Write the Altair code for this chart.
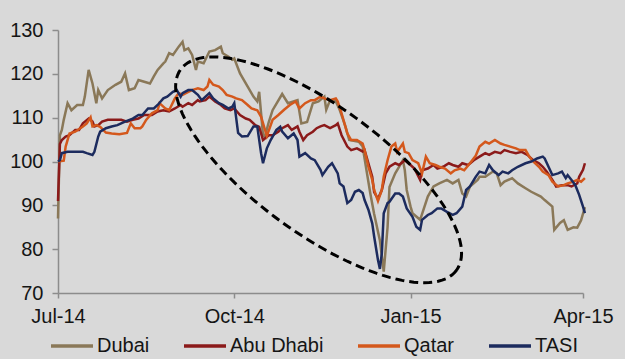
import altair as alt
import pandas as pd
import numpy as np

SERIES = ["Dubai", "Abu Dhabi", "Qatar", "TASI"]
COLORS = ["#8a7858", "#8b1a1a", "#d4581c", "#1c2b5e"]

dubai_dates = ["2014-07-01","2014-07-02","2014-07-03","2014-07-04","2014-07-06","2014-07-08","2014-07-11","2014-07-14","2014-07-15","2014-07-17","2014-07-19","2014-07-21","2014-07-22","2014-07-24","2014-07-27","2014-07-31","2014-08-03","2014-08-05","2014-08-07","2014-08-10","2014-08-12","2014-08-15","2014-08-18","2014-08-20","2014-08-22","2014-08-25","2014-08-26","2014-08-28","2014-08-30","2014-09-02","2014-09-04","2014-09-05","2014-09-07","2014-09-09","2014-09-11","2014-09-12","2014-09-15","2014-09-18","2014-09-21","2014-09-24","2014-09-25","2014-09-28","2014-09-30","2014-10-01","2014-10-04","2014-10-08","2014-10-11","2014-10-13","2014-10-14","2014-10-15","2014-10-16","2014-10-17","2014-10-19","2014-10-21","2014-10-26","2014-10-29","2014-11-03","2014-11-05","2014-11-08","2014-11-11","2014-11-14","2014-11-17","2014-11-18","2014-11-20","2014-11-23","2014-11-25","2014-11-28","2014-11-30","2014-12-05","2014-12-07","2014-12-09","2014-12-11","2014-12-13","2014-12-16","2014-12-18","2014-12-20","2014-12-21","2014-12-24","2014-12-26","2014-12-28","2014-12-29","2014-12-30","2015-01-01","2015-01-02","2015-01-06","2015-01-10","2015-01-13","2015-01-16","2015-01-20","2015-01-23","2015-01-26","2015-01-28","2015-01-30","2015-02-01","2015-02-05","2015-02-06","2015-02-09","2015-02-13","2015-02-15","2015-02-17","2015-02-19","2015-02-23","2015-02-26","2015-03-02","2015-03-05","2015-03-10","2015-03-12","2015-03-16","2015-03-17","2015-03-20","2015-03-22","2015-03-24","2015-03-27","2015-03-29","2015-03-31","2015-04-02"]
dubai_values = [87,106,107.2,109.5,113.3,111.7,112.9,112.9,114.8,120.9,117.8,113.3,116.3,114.4,116.3,117.5,118.2,120.1,116.3,116.7,118.6,118.2,117.8,119.4,120.9,122.4,122.8,124.7,124.3,126.2,127.3,125.4,125.8,124.3,120.9,122.8,122.4,125.1,125.4,126.2,124.7,123.9,123.2,123.5,120.1,117.1,114.8,113.7,115.9,111,106,105.7,109,111.7,115.4,113.3,114,108.7,109,113.3,113.7,114.8,111.8,114,113.7,111.8,108,104.9,104.5,103.4,98,92.7,88,82,74.9,85,94.2,97.3,98.8,100.3,98,93.5,89.7,88.2,86.7,92,94.3,95,95.8,95,95.8,92.7,92,94.3,95.8,96.5,96.5,97.7,97.3,94.6,95.4,96.2,95,93.9,93.1,92,91.2,89.7,84.4,86,86.6,84.4,85,84.9,86.6,89.6]

abu_dates = ["2014-07-01","2014-07-02","2014-07-03","2014-07-05","2014-07-07","2014-07-10","2014-07-12","2014-07-14","2014-07-17","2014-07-19","2014-07-20","2014-07-22","2014-07-24","2014-07-27","2014-07-31","2014-08-03","2014-08-06","2014-08-09","2014-08-12","2014-08-15","2014-08-19","2014-08-22","2014-08-25","2014-08-28","2014-08-31","2014-09-03","2014-09-04","2014-09-07","2014-09-09","2014-09-12","2014-09-13","2014-09-16","2014-09-18","2014-09-21","2014-09-24","2014-09-26","2014-09-29","2014-10-01","2014-10-04","2014-10-07","2014-10-09","2014-10-12","2014-10-14","2014-10-16","2014-10-19","2014-10-21","2014-10-24","2014-10-26","2014-10-29","2014-10-31","2014-11-03","2014-11-04","2014-11-06","2014-11-08","2014-11-11","2014-11-13","2014-11-15","2014-11-17","2014-11-20","2014-11-23","2014-11-24","2014-11-26","2014-11-29","2014-12-01","2014-12-04","2014-12-07","2014-12-08","2014-12-10","2014-12-12","2014-12-13","2014-12-15","2014-12-17","2014-12-19","2014-12-21","2014-12-24","2014-12-26","2014-12-29","2015-01-01","2015-01-03","2015-01-06","2015-01-07","2015-01-10","2015-01-13","2015-01-15","2015-01-18","2015-01-21","2015-01-23","2015-01-26","2015-01-28","2015-01-31","2015-02-03","2015-02-06","2015-02-09","2015-02-11","2015-02-14","2015-02-17","2015-02-19","2015-02-22","2015-02-25","2015-02-28","2015-03-03","2015-03-06","2015-03-09","2015-03-11","2015-03-13","2015-03-16","2015-03-18","2015-03-21","2015-03-24","2015-03-26","2015-03-29","2015-03-30","2015-04-01","2015-04-02"]
abu_values = [91,104,104.9,105.7,106,107.2,107.2,108.7,109.8,109.1,108,108.3,109.1,109.5,109.5,109.5,109.1,109.5,109.8,110.6,110.6,111.4,111.7,111.4,112.1,112.9,112.5,113.3,112.9,114,113.7,114,114.8,113.7,112.9,112.1,111.7,112.1,110.6,109.8,109.5,108.3,107.9,104.9,106,106,106.8,107.6,108.3,107.2,108,106.8,104.9,106,106.8,107.6,108,108.3,107.6,108.3,108.7,106,103.4,102.6,103,102.3,102.6,99.6,96.5,93,91.5,93.5,97.3,98.8,99.6,99.2,100.3,99.2,98.4,95.8,98,98.4,99.2,98.4,98.8,99.6,99.2,98.8,99.6,99.2,100.3,101.1,101.9,101.5,102.2,101.9,102.6,102.2,101.9,102.2,101.5,100.3,99.6,98.8,97.7,95.8,94.3,94.6,94.6,94.3,95,96.5,98.1,99.6]

qatar_dates = ["2014-07-01","2014-07-04","2014-07-05","2014-07-07","2014-07-10","2014-07-14","2014-07-16","2014-07-18","2014-07-19","2014-07-21","2014-07-23","2014-07-26","2014-07-29","2014-08-02","2014-08-06","2014-08-08","2014-08-10","2014-08-13","2014-08-14","2014-08-16","2014-08-19","2014-08-22","2014-08-23","2014-08-26","2014-08-28","2014-08-31","2014-09-02","2014-09-04","2014-09-07","2014-09-09","2014-09-12","2014-09-15","2014-09-17","2014-09-18","2014-09-20","2014-09-23","2014-09-25","2014-09-27","2014-09-30","2014-10-02","2014-10-05","2014-10-08","2014-10-10","2014-10-13","2014-10-15","2014-10-18","2014-10-21","2014-10-24","2014-10-27","2014-10-30","2014-11-02","2014-11-04","2014-11-07","2014-11-10","2014-11-12","2014-11-15","2014-11-17","2014-11-20","2014-11-23","2014-11-24","2014-11-26","2014-11-29","2014-12-01","2014-12-04","2014-12-07","2014-12-08","2014-12-10","2014-12-12","2014-12-13","2014-12-15","2014-12-17","2014-12-18","2014-12-20","2014-12-22","2014-12-24","2014-12-25","2014-12-28","2014-12-29","2014-12-31","2015-01-02","2015-01-05","2015-01-07","2015-01-09","2015-01-11","2015-01-14","2015-01-16","2015-01-19","2015-01-22","2015-01-24","2015-01-27","2015-01-29","2015-02-01","2015-02-04","2015-02-06","2015-02-09","2015-02-11","2015-02-14","2015-02-17","2015-02-19","2015-02-22","2015-02-25","2015-02-27","2015-03-02","2015-03-04","2015-03-06","2015-03-09","2015-03-11","2015-03-14","2015-03-16","2015-03-19","2015-03-22","2015-03-24","2015-03-27","2015-03-29","2015-03-31","2015-04-02"]
qatar_values = [100,100.2,103.4,106.4,106.8,108,108.7,110.1,108,108.3,107.9,106.6,106.4,106.2,106.5,108.7,107.6,107.6,108,109.5,111,111.7,113.3,112.1,111.7,114.4,115.6,115.2,115.9,116.3,116.7,116.3,117.1,118.6,117.5,117.1,116.3,115.2,114.8,114.4,114,112.9,112.1,111.7,110.2,105.8,109.5,110.6,111.8,112.9,113.7,112.1,113.3,114,114,114.8,114.4,114,114.4,113.7,111,106.4,104.9,104.9,104.1,102.6,98.8,95.8,93.5,91,93.5,96.5,100.3,103.4,104.1,102.2,104.1,102.2,101.9,100.3,99.6,97.3,101.1,99.6,99.2,98.8,98.4,97.3,98,98.4,98,99.6,101.3,103.4,104.5,104.1,104.9,104.1,103.8,103.4,103,102.6,102.6,101.1,100,98.8,97.7,96.9,95.4,94.3,94.6,95,95.4,95.8,95.4,96.2]

tasi_dates = ["2014-07-01","2014-07-02","2014-07-03","2014-07-06","2014-07-10","2014-07-14","2014-07-16","2014-07-19","2014-07-20","2014-07-22","2014-07-23","2014-07-26","2014-07-29","2014-08-01","2014-08-05","2014-08-09","2014-08-12","2014-08-14","2014-08-17","2014-08-20","2014-08-22","2014-08-25","2014-08-27","2014-08-30","2014-09-01","2014-09-03","2014-09-04","2014-09-07","2014-09-09","2014-09-12","2014-09-14","2014-09-17","2014-09-18","2014-09-20","2014-09-23","2014-09-25","2014-09-28","2014-09-30","2014-10-01","2014-10-03","2014-10-05","2014-10-08","2014-10-11","2014-10-13","2014-10-15","2014-10-16","2014-10-18","2014-10-20","2014-10-23","2014-10-25","2014-10-26","2014-10-29","2014-11-01","2014-11-03","2014-11-04","2014-11-07","2014-11-10","2014-11-12","2014-11-15","2014-11-16","2014-11-19","2014-11-21","2014-11-24","2014-11-25","2014-11-27","2014-11-29","2014-12-01","2014-12-03","2014-12-05","2014-12-07","2014-12-08","2014-12-10","2014-12-12","2014-12-13","2014-12-15","2014-12-16","2014-12-17","2014-12-18","2014-12-20","2014-12-21","2014-12-24","2014-12-26","2014-12-28","2014-12-30","2015-01-02","2015-01-04","2015-01-06","2015-01-07","2015-01-10","2015-01-12","2015-01-15","2015-01-17","2015-01-20","2015-01-23","2015-01-25","2015-01-28","2015-01-30","2015-02-01","2015-02-04","2015-02-06","2015-02-09","2015-02-11","2015-02-13","2015-02-16","2015-02-18","2015-02-21","2015-02-23","2015-02-26","2015-03-02","2015-03-05","2015-03-08","2015-03-11","2015-03-12","2015-03-14","2015-03-16","2015-03-19","2015-03-21","2015-03-23","2015-03-24","2015-03-26","2015-03-28","2015-03-30","2015-04-01","2015-04-02"]
tasi_values = [100,100.3,101.9,102.2,102.2,102.2,101.9,101.5,102.2,105.7,106.8,107.6,108,108.3,109.1,109.8,110.6,110.6,112.1,112.1,112.9,114.4,114.8,115.9,116.3,114.8,115.6,116.3,116.3,115.2,114,115.2,115.6,114.4,113.3,112.9,112.1,112.5,113.3,106.5,105.7,105.8,108,108,101.9,99.6,103,104.9,107.2,107.9,106.8,105.3,106.4,104.9,101.1,101.9,100.7,100.3,98.1,96.9,98.8,99.6,97.3,95,94.3,90.5,91.2,93.1,93.5,92.8,91.2,89,85.9,82.9,77.5,75.5,79,88.2,90.5,90.8,92.7,92.7,92,89.3,87.4,85.1,84.4,86.7,87.8,88.2,89.3,89.3,88.5,87.8,88.2,89.7,93.5,94.3,96.5,97.7,97.3,99.2,98,96.9,97.7,97.3,98,98.8,99.6,100,100.7,101.1,100.7,98.8,96.9,97.3,97.7,96.2,96.9,95.8,94.6,92.4,89.7,88.2]

X_TICKS = ["2014-07-01", "2014-10-01", "2015-01-01", "2015-04-01"]
Y_TICKS = [70, 80, 90, 100, 110, 120, 130]

# dashed annotation ellipse (centre and two conjugate radii, in data units)
ELL_CENTER_DATE = "2014-11-14"
ELL_CENTER_VALUE = 98.1
ELL_R1 = (72.0, -22.9)   # (days, index points)
ELL_R2 = (-19.6, -11.8)

frames = []
for name, d, v in [("Dubai", dubai_dates, dubai_values),
                   ("Abu Dhabi", abu_dates, abu_values),
                   ("Qatar", qatar_dates, qatar_values),
                   ("TASI", tasi_dates, tasi_values)]:
    frames.append(pd.DataFrame({"date": d, "value": v, "series": name}))
df = pd.concat(frames, ignore_index=True)

t = np.linspace(0, 2 * np.pi, 121)
c0 = pd.Timestamp(ELL_CENTER_DATE)
ell_days = ELL_R1[0] * np.cos(t) + ELL_R2[0] * np.sin(t)
ell = pd.DataFrame({
    "date": [(c0 + pd.Timedelta(days=float(x))).strftime("%Y-%m-%dT%H:%M:%SZ") for x in ell_days],
    "value": ELL_CENTER_VALUE + ELL_R1[1] * np.cos(t) + ELL_R2[1] * np.sin(t),
    "idx": np.arange(len(t)),
})

def dt(s):
    y, m, d = [int(p) for p in s.split("-")]
    return alt.DateTime(year=y, month=m, date=d, utc=True)

FONT = "Liberation Sans"
xscale = alt.Scale(type="utc", domain=[dt(X_TICKS[0]), dt(X_TICKS[-1])])
yscale = alt.Scale(domain=[70, 130], nice=False, zero=False)

xaxis = alt.Axis(values=[dt(s) for s in X_TICKS], format="%b-%y", title=None, grid=False,
                 tickSize=5, labelPadding=8, labelFontSize=20, labelFont=FONT,
                 labelColor="#151515", domainColor="#8c8c8c", tickColor="#8c8c8c",
                 domainWidth=1.5, tickWidth=1.5, labelFlush=False)
yaxis = alt.Axis(values=Y_TICKS, title=None, grid=False, tickSize=6, labelPadding=9,
                 labelFontSize=20, labelFont=FONT, labelColor="#151515",
                 domainColor="#8c8c8c", tickColor="#8c8c8c", domainWidth=1.5, tickWidth=1.5)

lines = alt.Chart(df).mark_line(strokeWidth=2.5).encode(
    x=alt.X("date:T", scale=xscale, axis=xaxis),
    y=alt.Y("value:Q", scale=yscale, axis=yaxis),
    color=alt.Color("series:N", scale=alt.Scale(domain=SERIES, range=COLORS),
                    legend=alt.Legend(title=None, orient="none", legendX=-9, legendY=293,
                                      direction="horizontal", symbolType="stroke",
                                      symbolStrokeWidth=3.5, symbolSize=1764,
                                      labelFontSize=20, labelFont=FONT, labelColor="#151515",
                                      columnPadding=27, labelOffset=2)),
    detail="series:N",
)

ellipse = alt.Chart(ell).mark_line(color="black", strokeWidth=3, strokeDash=[9, 5]).encode(
    x=alt.X("date:T", scale=xscale, axis=xaxis),
    y=alt.Y("value:Q", scale=yscale, axis=yaxis),
    order="idx:Q",
)

chart = alt.layer(lines, ellipse).properties(
    width=525, height=263,
    padding={"left": 58, "top": 30, "right": 42, "bottom": 66},
    autosize=alt.AutoSizeParams(type="none"),
    background="#d9d9d9",
).configure_view(stroke=None)

chart.save("out.html", embed_options={"renderer": "svg", "actions": False})
